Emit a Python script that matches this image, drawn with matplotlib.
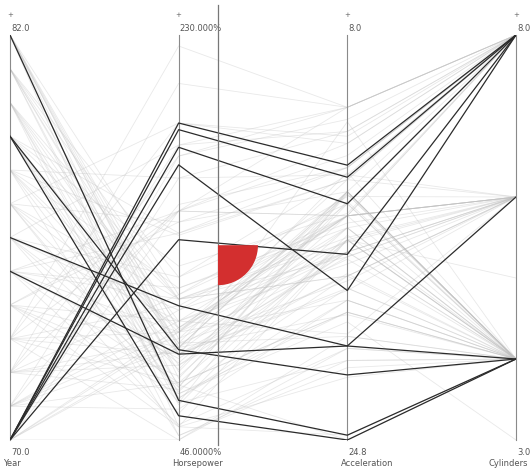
import matplotlib.pyplot as plt
import matplotlib.patches as mpatches
import matplotlib.transforms as mtransforms

# dimensions shown, with the range of each axis (value at top, value at bottom)
dims = ['Year', 'Horsepower', 'Acceleration', 'Cylinders']
top_vals = [82.0, 230.0, 8.0, 8.0]
bottom_vals = [70.0, 46.0, 24.8, 3.0]
top_labels = ['82.0', '230.000%', '8.0', '8.0']
bottom_labels = ['70.0', '46.0000%', '24.8', '3.0']

# all cars (drawn faint)
year = [70, 70, 70, 70, 70, 71, 71, 71, 71, 71, 72, 72, 72, 72, 72,
        73, 73, 73, 73, 73, 74, 74, 74, 74, 75, 75, 75, 75, 75,
        76, 76, 76, 76, 77, 77, 77, 77, 78, 78, 78, 78,
        79, 79, 79, 79, 80, 80, 80, 80, 81, 81, 81, 81,
        82, 82, 82, 82, 82,
        70, 70, 70, 71, 71, 71, 72, 72, 72, 73, 73, 73,
        74, 74, 74, 75, 75, 75, 76, 76, 76, 77, 77, 77,
        78, 78, 78, 79, 79, 79, 80, 80, 80, 81, 81, 81,
        82, 82, 82, 82]
horsepower = [165, 150, 95, 97, 90, 88, 100, 153, 60, 105, 86, 150, 69, 175, 80,
              150, 107, 72, 225, 95, 67, 100, 145, 75, 110, 53, 150, 83, 95,
              70, 120, 52, 105, 145, 78, 110, 58, 85, 139, 68, 95,
              65, 90, 140, 71, 48, 90, 67, 110, 88, 65, 85, 110,
              52, 84, 92, 112, 74,
              175, 88, 46, 95, 180, 72, 208, 92, 112, 85, 190, 46,
              150, 52, 88, 72, 140, 115, 180, 81, 100, 97, 190, 63,
              115, 165, 48, 125, 80, 110, 62, 100, 77, 120, 70, 97,
              63, 88, 96, 85]
acceleration = [12.0, 11.0, 15.0, 15.5, 20.5, 14.5, 15.5, 13.5, 19.0, 15.5,
                16.0, 13.0, 18.0, 11.5, 17.0, 12.5, 15.5, 16.5, 11.0, 17.0,
                19.5, 17.0, 14.5, 16.0, 18.0, 21.0, 15.5, 17.0, 15.5,
                14.5, 15.0, 22.2, 17.0, 13.5, 14.5, 16.4, 16.5,
                17.2, 14.0, 16.5, 19.0, 18.5, 18.2, 14.0, 24.8,
                21.5, 13.7, 19.9, 18.0, 19.6, 19.0, 18.0, 16.6,
                24.6, 11.6, 17.3, 14.7, 15.0,
                11.0, 14.5, 20.5, 14.0, 12.0, 19.5, 11.0, 14.5, 15.5,
                18.5, 12.5, 21.0, 15.5, 16.5, 16.5, 19.5, 13.5, 16.0,
                11.0, 15.5, 17.5, 15.5, 12.2, 14.5, 15.8, 13.8, 21.8,
                15.4, 17.9, 17.2, 16.3, 20.4, 14.9, 13.8, 14.6, 16.5,
                21.5, 14.6, 16.0, 18.6]
cylinders = [8, 8, 4, 6, 4, 4, 6, 8, 4, 6, 4, 8, 4, 8, 4,
             8, 6, 4, 8, 6, 4, 6, 8, 4, 6, 4, 8, 4, 6,
             4, 8, 4, 6, 8, 4, 6, 4, 6, 8, 4, 4,
             4, 6, 8, 4, 4, 4, 3, 6, 4, 4, 6, 6,
             4, 4, 4, 6, 4,
             8, 4, 4, 6, 8, 4, 8, 4, 6, 4, 8, 4,
             8, 4, 6, 4, 8, 6, 8, 4, 6, 6, 8, 4,
             6, 8, 4, 8, 4, 6, 4, 6, 4, 6, 4, 5,
             4, 4, 4, 6]

# brushed selection (drawn dark)
sel_year = [70, 70, 70, 70, 70, 82, 79, 79, 76, 75]
sel_horsepower = [190, 187, 179, 171, 137, 64, 87, 57, 107, 85]
sel_acceleration = [13.4, 13.9, 15.0, 18.6, 17.1, 24.6, 22.1, 24.8, 20.9, 20.9]
sel_cylinders = [8, 8, 8, 8, 8, 4, 4, 4, 4, 6]


def norm(values, i):
    # 1 at the top of axis i, 0 at its bottom
    return [(v - bottom_vals[i]) / (top_vals[i] - bottom_vals[i]) for v in values]


fig = plt.figure(figsize=(5.30, 4.68), dpi=100)
ax = fig.add_axes([10 / 530, 28 / 468, 506 / 530, 405 / 468])
ax.set_xlim(0, 3)
ax.set_ylim(0, 1)
ax.axis('off')

xs = list(range(len(dims)))

bg = [norm(year, 0), norm(horsepower, 1), norm(acceleration, 2), norm(cylinders, 3)]
for k in range(len(year)):
    ax.plot(xs, [col[k] for col in bg], color='#c0c0c0', lw=0.6, alpha=0.35, zorder=1)

fg = [norm(sel_year, 0), norm(sel_horsepower, 1), norm(sel_acceleration, 2), norm(sel_cylinders, 3)]
for k in range(len(sel_year)):
    ax.plot(xs, [col[k] for col in fg], color='#2b2b2b', lw=0.9, zorder=3)

# axis lines, end labels and names
for i, name in enumerate(dims):
    ax.plot([i, i], [0, 1], color='#8a8a8a', lw=0.8, zorder=2, clip_on=False)
    ax.text(i, 1.05, '+', fontsize=5, color='#666666', ha='center', va='center')
    ax.text(i + 0.006, 1.017, top_labels[i], fontsize=6, color='#555555', ha='left', va='center')
    ax.text(i + 0.006, -0.03, bottom_labels[i], fontsize=6, color='#555555', ha='left', va='center')
    if i == len(dims) - 1:
        # last name pulled in so it stays inside the figure
        fig.text(0.997, 5 / 468, name, fontsize=6, color='#555555', ha='right', va='center')
    else:
        ax.text(i - 0.04, -0.057, name, fontsize=6, color='#555555', ha='left', va='center',
                clip_on=False)

# draggable marker line with its handle
mx = 1.233
ax.plot([mx, mx], [-0.012, 1.075], color='#777777', lw=0.9, zorder=4, clip_on=False)
handle_y = 0.481
offset = mtransforms.ScaledTranslation(mx, handle_y, ax.transData)
wedge = mpatches.Wedge((0, 0), 0.4, -90, 0, facecolor='#d32f2f', edgecolor='none',
                       transform=fig.dpi_scale_trans + offset, zorder=5)
ax.add_patch(wedge)

fig.savefig('out.png', dpi=100)
